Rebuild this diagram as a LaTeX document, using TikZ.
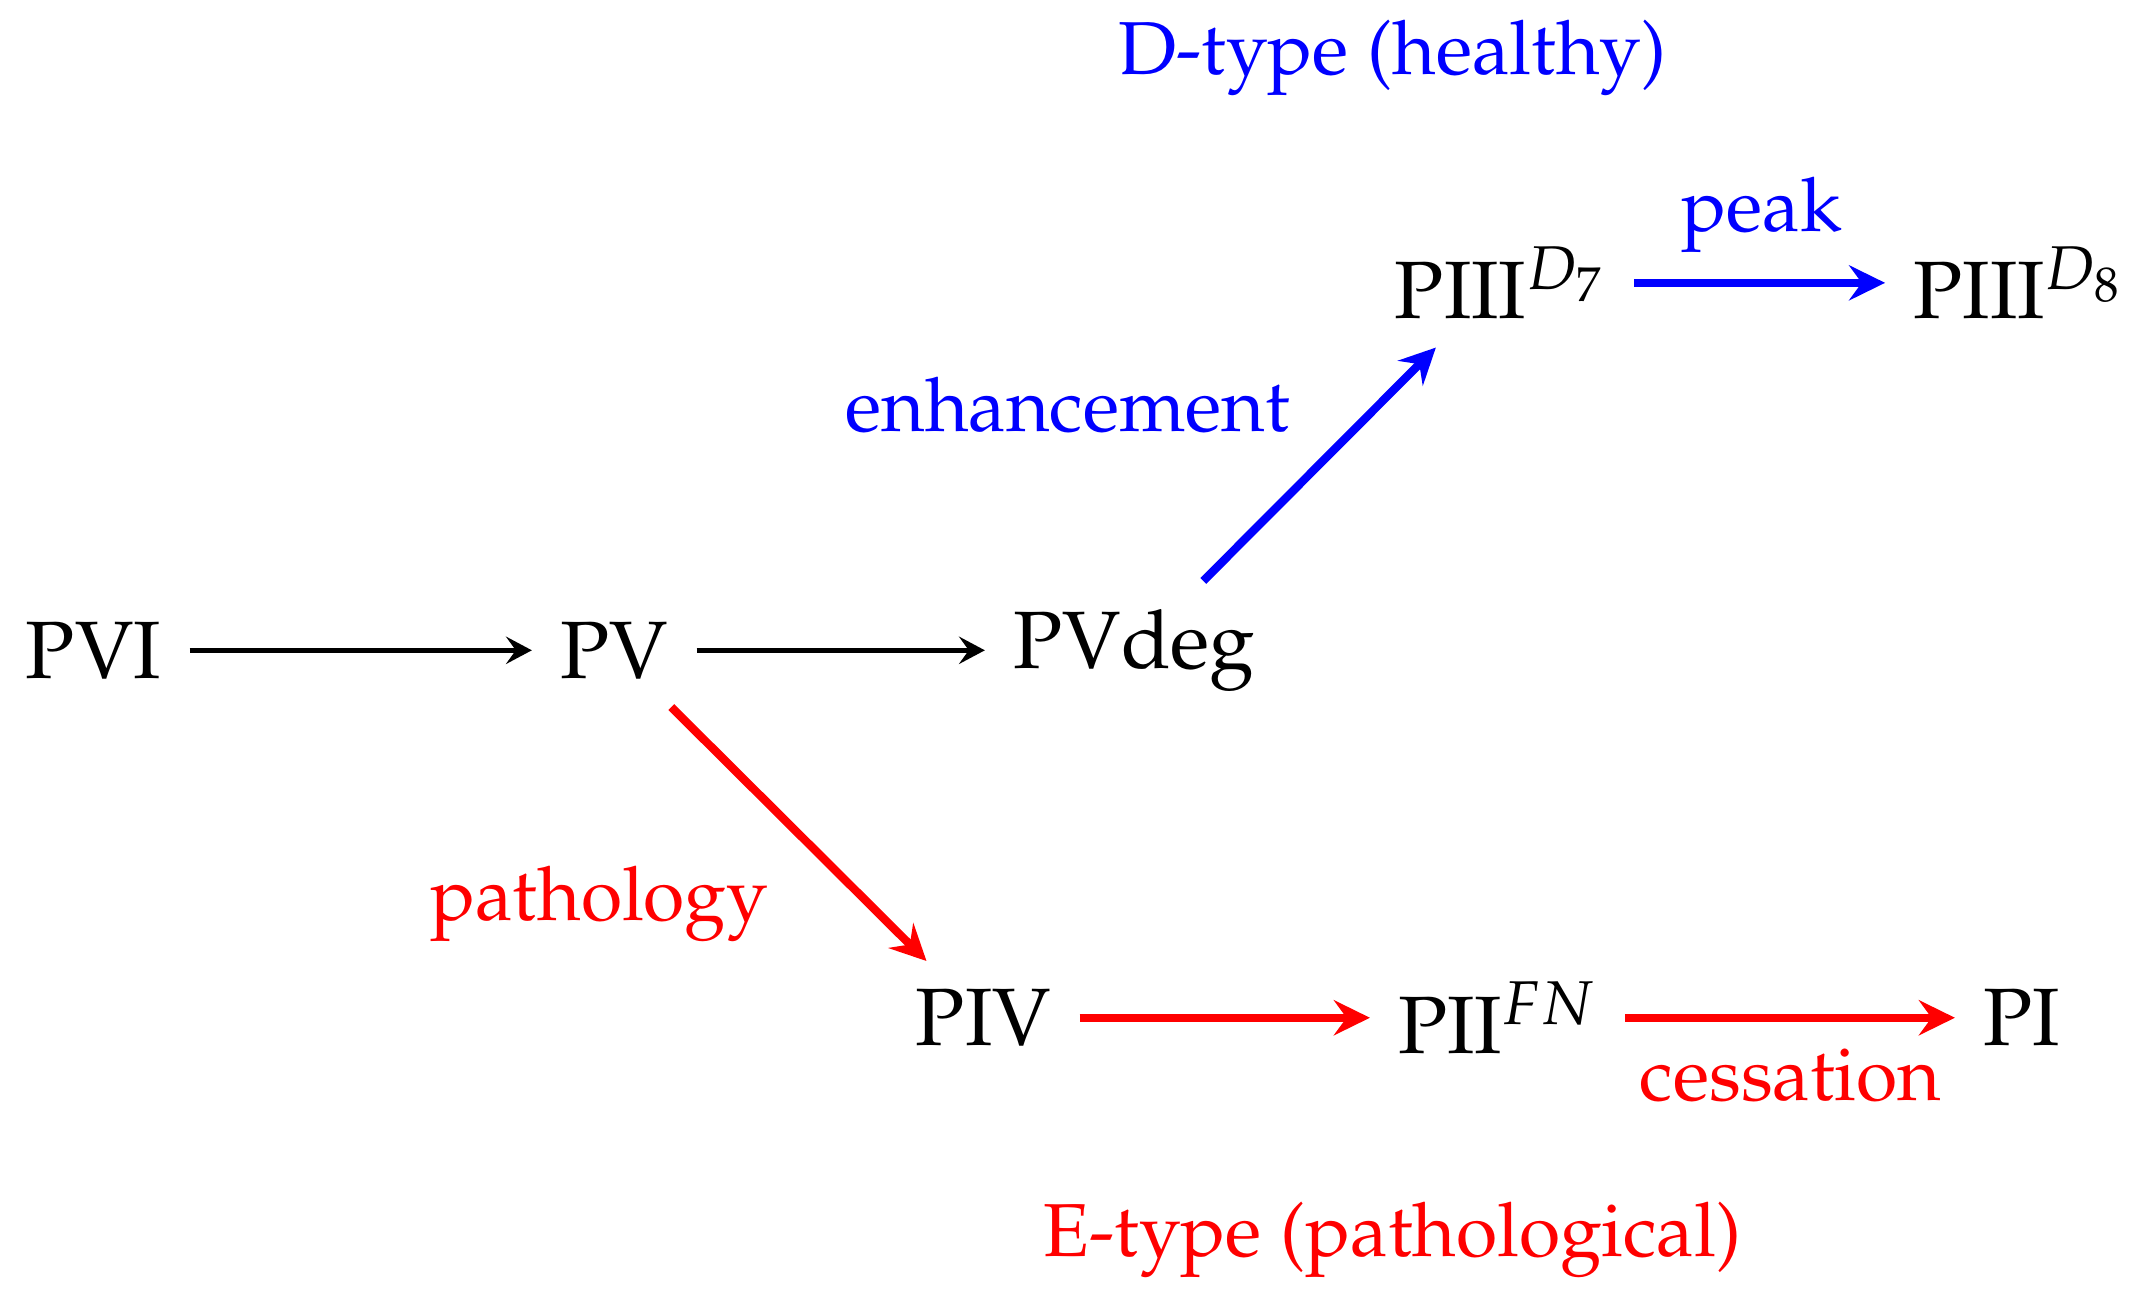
\documentclass[tikz,border=0pt]{standalone}
\usepackage[T1]{fontenc}
\usepackage{mathpazo}
\usetikzlibrary{arrows.meta}
\definecolor{pblue}{RGB}{0,0,255}
\definecolor{pred}{RGB}{255,0,0}
\begin{document}
\begin{tikzpicture}[x=1cm,y=1cm,
  stage/.style={font=\fontsize{16.7}{20}\selectfont, text=black, outer sep=2.5pt},
  lab/.style={font=\fontsize{15.4}{18}\selectfont, inner sep=0pt, anchor=base west},
  blackarrow/.style={-{Stealth[length=5.3pt,width=5.6pt,inset=2pt]}, line width=1.15pt, black},
  bluearrow/.style={-{Stealth[length=7.4pt,width=7.2pt,inset=2.6pt]}, line width=1.7pt, pblue},
  redarrow/.style={-{Stealth[length=7.4pt,width=7.2pt,inset=2.6pt]}, line width=1.7pt, pred}]
\useasboundingbox (0,0) rectangle (15.52,9.35);
% stages
\node[stage] (pvi) at (0.675,4.66) {PVI};
\node[stage] (pv) at (4.43,4.66) {PV};
\node[stage] (pvdeg) at (8.18,4.66) {PVdeg};
\node[stage] (p3a) at (10.82,7.31) {PIII$^{D_7}$};
\node[stage] (p3b) at (14.56,7.31) {PIII$^{D_8}$};
\node[stage] (piv) at (7.093,2.01) {PIV};
\node[stage] (pii) at (10.80,2.01) {PII$^{FN}$};
\node[stage] (pi) at (14.58,2.01) {PI};
% connectors
\draw[blackarrow] (pvi) -- (pv);
\draw[blackarrow] (pv) -- (pvdeg);
\draw[bluearrow] (pvdeg) -- (p3a);
\draw[bluearrow] (p3a) -- (p3b);
\draw[redarrow] (pv) -- (piv);
\draw[redarrow] (piv) -- (pii);
\draw[redarrow] (pii) -- (pi);
% labels
\node[lab, text=pblue] (dtype) at (8.06,8.81) {D-type (healthy)};
\node[lab, text=pblue] (peak) at (12.12,7.68) {peak};
\node[lab, text=pblue] (enh) at (6.09,6.237) {enhancement};
\node[lab, text=pred] (path) at (3.096,2.715) {pathology};
\node[lab, text=pred] (cess) at (11.82,1.412) {cessation};
\node[lab, text=pred] (etype) at (7.52,0.29) {E-type (pathological)};
\end{tikzpicture}
\end{document}
